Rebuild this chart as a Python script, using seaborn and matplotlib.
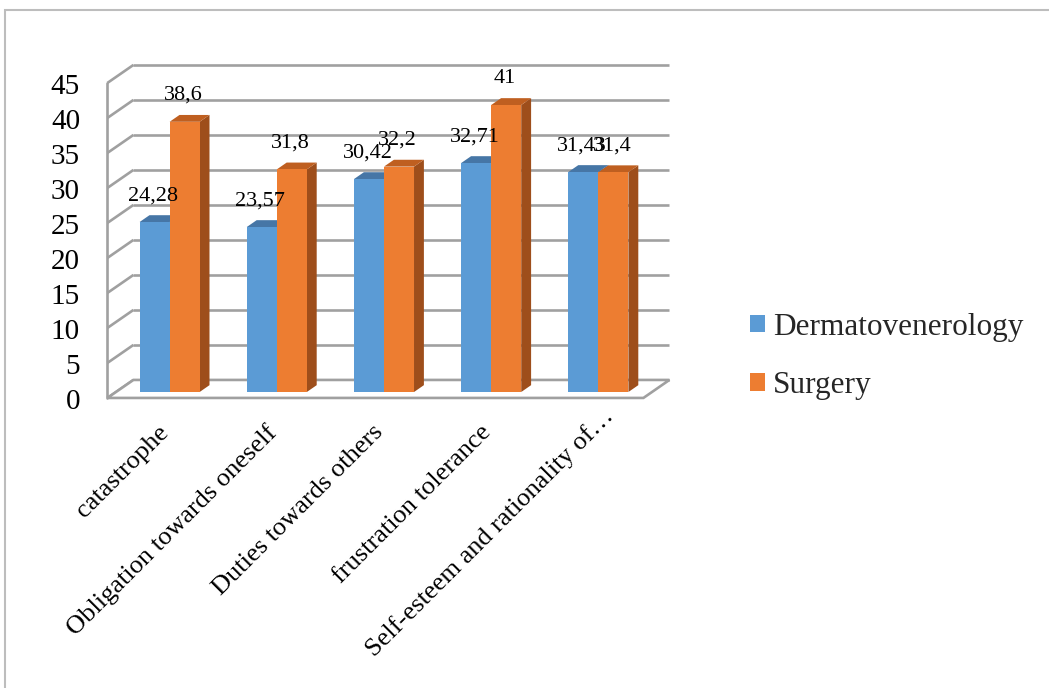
import numpy as np
import pandas as pd
import matplotlib
matplotlib.use("Agg")
import matplotlib.pyplot as plt
import seaborn as sns
from matplotlib.patches import Polygon, Rectangle, Patch
from matplotlib.lines import Line2D
from matplotlib.transforms import ScaledTranslation

# ---- data ----
categories = [
    "catastrophe",
    "Obligation towards oneself",
    "Duties towards others",
    "frustration tolerance",
    "Self-esteem and rationality of\u2026",
]
dermatovenerology = [24.28, 23.57, 30.42, 32.71, 31.43]
surgery = [38.6, 31.8, 32.2, 41, 31.4]
series_names = ["Dermatovenerology", "Surgery"]
y_ticks = [0, 5, 10, 15, 20, 25, 30, 35, 40, 45]

# ---- styling ----
front_colors = ["#5B9BD5", "#ED7D31"]
top_colors = ["#4676A6", "#BF5F20"]
side_colors = ["#3E6A95", "#9E4E1B"]
grid_color = "#A0A0A0"

sns.set_style("white")
plt.rcParams["font.family"] = ["Liberation Serif", "DejaVu Serif"]

W, H, DPI = 1049, 688, 100
fig = plt.figure(figsize=(W / DPI, H / DPI), dpi=DPI)
fig.patch.set_facecolor("white")

# plotting plane of the bar fronts
ax_left, ax_bottom_px, ax_w, ax_h = 116, 392, 536, 315
ax = fig.add_axes([ax_left / W, (H - ax_bottom_px) / H, ax_w / W, ax_h / H])

df = pd.DataFrame({
    "category": categories * 2,
    "value": dermatovenerology + surgery,
    "series": [series_names[0]] * len(categories) + [series_names[1]] * len(categories),
})

sns.barplot(data=df, x="category", y="value", hue="series", order=categories,
            hue_order=series_names, palette=front_colors, saturation=1,
            width=0.56, linewidth=0, legend=False, ax=ax, zorder=4)

xmin, xmax = -0.5, len(categories) - 0.5
ymin, ymax = 0, 45
ax.set_xlim(xmin, xmax)
ax.set_ylim(ymin, ymax)
ax.set_xticks([])
ax.set_yticks([])
ax.set_xlabel("")
ax.set_ylabel("")
for s in ax.spines.values():
    s.set_visible(False)
ax.patch.set_alpha(0)

# pixel -> data unit conversion
ux = (xmax - xmin) / ax_w
uy = (ymax - ymin) / ax_h

# depth direction of the pseudo-3D box (pixels)
DX, DY = 26.0, 18.0
f_front, f_back, f_bar = -0.33, 0.67, 0.38


def shift(x, y, f):
    return x + f * DX * ux, y + f * DY * uy


# back wall gridlines and side wall lines
for t in y_ticks:
    x0, y0 = shift(xmin, t, f_back)
    x1, y1 = shift(xmax, t, f_back)
    ax.add_line(Line2D([x0, x1], [y0, y1], color=grid_color, lw=1.9,
                       zorder=1, clip_on=False, solid_capstyle="butt"))
    a0, b0 = shift(xmin, t, f_front)
    ax.add_line(Line2D([a0, x0], [b0, y0], color=grid_color, lw=1.9,
                       zorder=1, clip_on=False, solid_capstyle="butt"))

# front-left vertical edge of side wall
a0, b0 = shift(xmin, ymin, f_front)
a1, b1 = shift(xmin, ymax, f_front)
ax.add_line(Line2D([a0, a1], [b0, b1], color=grid_color, lw=1.9, zorder=1, clip_on=False))

# floor
fl = [shift(xmin, 0, f_front), shift(xmax, 0, f_front),
      shift(xmax, 0, f_back), shift(xmin, 0, f_back)]
ax.add_patch(Polygon(fl, closed=True, facecolor="white", edgecolor=grid_color,
                     lw=1.9, zorder=1.5, clip_on=False, joinstyle="miter"))

# top and side faces of each bar, plus value labels
for si, container in enumerate(ax.containers):
    for bar in container:
        x0 = bar.get_x()
        x1 = x0 + bar.get_width()
        h = bar.get_height()
        top = [(x0, h), (x1, h), shift(x1, h, f_bar), shift(x0, h, f_bar)]
        side = [(x1, 0), (x1, h), shift(x1, h, f_bar), shift(x1, 0, f_bar)]
        z = 3 + si
        ax.add_patch(Polygon(side, closed=True, facecolor=side_colors[si],
                             edgecolor="none", zorder=z, clip_on=False))
        ax.add_patch(Polygon(top, closed=True, facecolor=top_colors[si],
                             edgecolor="none", zorder=z, clip_on=False))
        bar.set_zorder(3.5 + si)
        bar.set_clip_on(False)
        label = f"{h:g}".replace(".", ",")
        ax.annotate(label, xy=(x0 + bar.get_width() / 2, h), xytext=(-1, 19),
                    textcoords="offset points", ha="center", va="center",
                    fontsize=16, color="black", zorder=10, annotation_clip=False)


def px_offset(dx, dy):
    return ax.transData + ScaledTranslation(dx / DPI, dy / DPI, fig.dpi_scale_trans)


# y tick labels on the front edge
for t in y_ticks:
    ax.text(xmin, t, str(t), transform=px_offset(-36, -10), ha="right", va="center",
            fontsize=21, color="black")

# category labels (the truncated last one sits a little further along its diagonal)
label_shift = [0, 0, 0, 0, 16]
for i, c in enumerate(categories):
    s = label_shift[i]
    ax.text(i, 0, c, transform=px_offset(-4 + s, -37 + s), rotation=45,
            rotation_mode="anchor", ha="right", va="center", fontsize=19, color="black")

# legend
handles = [Patch(facecolor=front_colors[i], edgecolor="none") for i in range(2)]
fig.legend(handles, series_names, loc="center left",
           bbox_to_anchor=(750 / W, 1 - 356.5 / H), frameon=False, fontsize=22.5,
           handlelength=0.48, handleheight=0.48, handletextpad=0.25,
           labelspacing=0.94, borderpad=0, borderaxespad=0)

# outer chart border
fig.add_artist(Rectangle((4.5 / W, -0.2), 1.2, 1.2 - 9.5 / H, transform=fig.transFigure,
                         facecolor="none", edgecolor="#BDBDBD", lw=1.5))

fig.savefig("out.png", dpi=DPI)
